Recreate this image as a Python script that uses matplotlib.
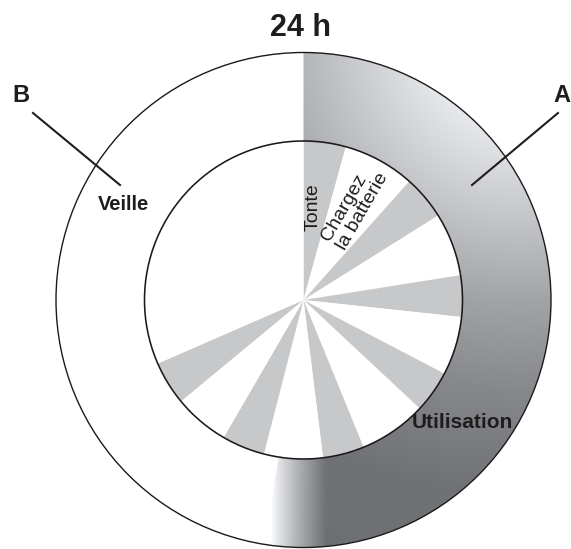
import numpy as np
import matplotlib
matplotlib.use('Agg')
import matplotlib.pyplot as plt
from matplotlib.patches import Wedge, Circle

plt.rcParams['font.family'] = ['Liberation Sans', 'DejaVu Sans']

# ---------------- data ----------------
day_hours = 24
usage_hours = 12.6                      # A : Utilisation
standby_hours = day_hours - usage_hours  # B : Veille
cycle_hours = [1.03, 1.75, 1.08, 1.54, 1.01, 1.43, 1.03, 1.65,
               1.01, 1.43, 1.05, 1.35, 1.07]   # alternate Tonte / Charge
idle_hours = day_hours - sum(cycle_hours)
title = '24 h'
ring_labels = ['Utilisation', 'Veille']
slice_labels = ['Tonte', 'Chargez\nla batterie']
callouts = ['A', 'B']

# ---------------- figure ----------------
W, H = 571, 549
fig = plt.figure(figsize=(W / 100, H / 100), dpi=100)
ax = fig.add_axes([0, 0, 1, 1])

cx, cy = 303.5, H - 300
R_out, R_in = 247.5, 159

# gradient for the usage ring
xs = np.arange(W) + 0.5
ys = np.arange(H) + 0.5
X, Y = np.meshgrid(xs, ys)
d = np.hypot(X - 520, Y - 40)
g = np.interp(d, [0, 80, 180, 260, 350, 450, 600],
              [250, 236, 196, 163, 135, 113, 109])
lower = Y > (H - cy)
t = np.clip((X - 271) / 55.0, 0, 1) ** 0.85
g = np.where(lower, 255 - t * (255 - g), g)
img = np.dstack([g, g + 1, g + 4]).clip(0, 255) / 255.0

theta_end = 90
theta_start = 90 - usage_hours / day_hours * 360
ring = Wedge((cx, cy), R_out, theta_start, theta_end, width=R_out - R_in,
             facecolor='none', edgecolor='none')
ax.add_patch(ring)
im = ax.imshow(img, extent=(0, W, 0, H), origin='upper', zorder=1,
               interpolation='bilinear')
im.set_clip_path(ring)

# inner pie of mowing / charging cycles
gray = '#c7c8ca'
colors = [gray if i % 2 == 0 else 'white' for i in range(len(cycle_hours))] + ['white']
ax.pie(cycle_hours + [idle_hours], colors=colors, startangle=90,
       counterclock=False, radius=R_in, center=(cx, cy),
       wedgeprops=dict(linewidth=0, zorder=2))

ax.add_patch(Circle((cx, cy), R_in, fill=False, lw=1.15, ec='#1a1a1a', zorder=3))
ax.add_patch(Circle((cx, cy), R_out, fill=False, lw=1.0, ec='#1a1a1a', zorder=3))

ax.set_xlim(0, W)
ax.set_ylim(0, H)
ax.set_aspect('equal')
ax.axis('off')

txt = '#1f1c1d'
ax.text(301, H - 28, title, ha='center', va='center', fontsize=22,
        fontweight='bold', color=txt)

# callouts
ax.plot([33, 120], [H - 113, H - 185], color=txt, lw=1.5, zorder=4)
ax.plot([558, 472], [H - 113, H - 185], color=txt, lw=1.5, zorder=4)
ax.text(21, H - 96, callouts[1], ha='center', va='center', fontsize=17,
        fontweight='bold', color=txt)
ax.text(553, H - 96, callouts[0], ha='left', va='center', fontsize=17,
        fontweight='bold', color=txt)

ax.text(123, H - 204, ring_labels[1], ha='center', va='center', fontsize=14.5,
        fontweight='bold', color=txt, zorder=5)
ax.text(462, H - 423, ring_labels[0], ha='center', va='center', fontsize=15,
        fontweight='bold', color=txt, zorder=5)

ax.text(313, H - 207, slice_labels[0], ha='center', va='center', fontsize=14,
        rotation=90, color=txt, zorder=5)
ax.text(355, H - 207, slice_labels[1], ha='center', va='center', fontsize=14,
        rotation=60, multialignment='left', linespacing=1.05, color=txt,
        zorder=5)

fig.savefig('out.png', dpi=100)
